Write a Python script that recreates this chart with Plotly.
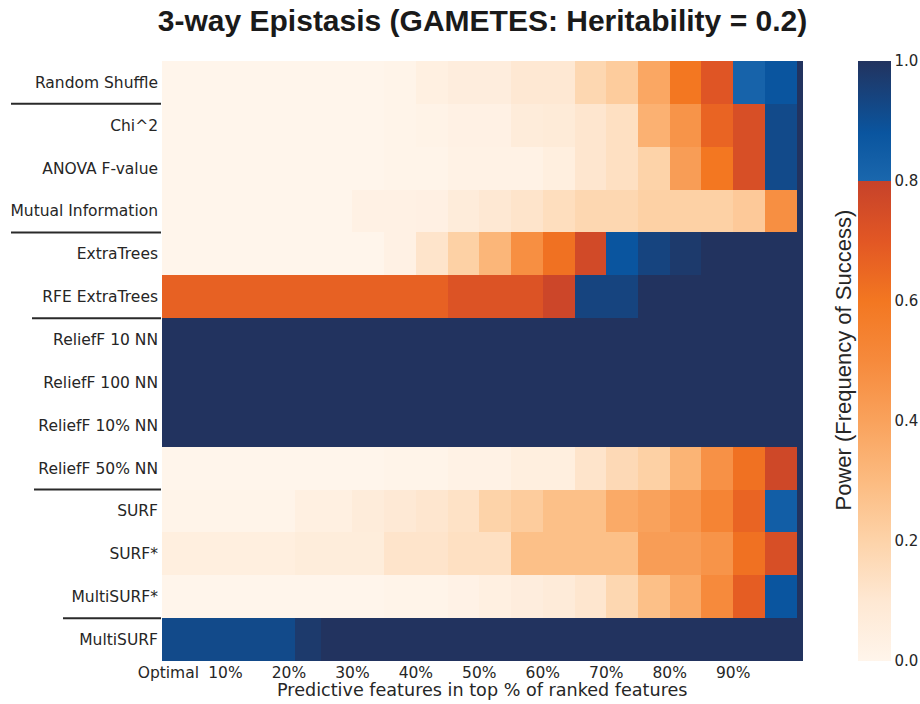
import plotly.graph_objects as go

# ---------------- data ----------------
methods = ["Random Shuffle", "Chi^2", "ANOVA F-value", "Mutual Information",
           "ExtraTrees", "RFE ExtraTrees", "ReliefF 10 NN", "ReliefF 100 NN",
           "ReliefF 10% NN", "ReliefF 50% NN", "SURF", "SURF*", "MultiSURF*",
           "MultiSURF"]

# percentage thresholds (bin edges) of the ranked-feature cut-offs
segment_edges = [0, 21, 25, 30, 35, 40, 45, 50, 55, 60, 65, 70, 75, 80, 85, 90, 95, 100, 101]

random_shuffle = [0, 0, 0, 0, 0.01, 0.04, 0.06, 0.06, 0.10, 0.10, 0.18, 0.23, 0.38, 0.60, 0.71, 0.816, 0.88, 1.0]
chi2           = [0, 0, 0, 0, 0.01, 0.015, 0.03, 0.03, 0.07, 0.08, 0.11, 0.14, 0.34, 0.46, 0.66, 0.74, 0.92, 1.0]
anova          = [0, 0, 0, 0, 0.01, 0.01, 0.025, 0.025, 0.025, 0.05, 0.11, 0.14, 0.20, 0.42, 0.60, 0.74, 0.92, 1.0]
mutual_info    = [0, 0, 0, 0.03, 0.03, 0.035, 0.07, 0.10, 0.12, 0.15, 0.18, 0.18, 0.21, 0.21, 0.21, 0.24, 0.48, 1.0]
extra_trees    = [0, 0, 0, 0, 0.03, 0.12, 0.21, 0.32, 0.48, 0.62, 0.76, 0.88, 0.94, 0.976, 1.0, 1.0, 1.0, 1.0]
rfe_extra      = [0.67, 0.67, 0.67, 0.67, 0.67, 0.67, 0.72, 0.72, 0.72, 0.78, 0.94, 0.94, 1.0, 1.0, 1.0, 1.0, 1.0, 1.0]
relieff_10     = [1.0] * 18
relieff_100    = [1.0] * 18
relieff_10pct  = [1.0] * 18
relieff_50pct  = [0, 0, 0, 0, 0.01, 0.01, 0.025, 0.025, 0.05, 0.05, 0.12, 0.17, 0.21, 0.33, 0.47, 0.62, 0.77, 1.0]
surf           = [0.01, 0.04, 0.04, 0.07, 0.09, 0.11, 0.13, 0.20, 0.23, 0.28, 0.28, 0.37, 0.40, 0.45, 0.53, 0.66, 0.84, 1.0]
surf_star      = [0.05, 0.065, 0.065, 0.065, 0.12, 0.12, 0.14, 0.14, 0.28, 0.28, 0.28, 0.28, 0.42, 0.42, 0.46, 0.62, 0.74, 1.0]
multisurf_star = [0, 0, 0, 0, 0.01, 0.01, 0.02, 0.04, 0.06, 0.075, 0.11, 0.18, 0.28, 0.37, 0.50, 0.68, 0.88, 1.0]
multisurf      = [0.92, 0.975, 1.0, 1.0, 1.0, 1.0, 1.0, 1.0, 1.0, 1.0, 1.0, 1.0, 1.0, 1.0, 1.0, 1.0, 1.0, 1.0]

x_tick_vals = [1, 10, 20, 30, 40, 50, 60, 70, 80, 90]
x_tick_labels = ["Optimal", "10%", "20%", "30%", "40%", "50%", "60%", "70%", "80%", "90%"]
cbar_tick_vals = [0.0, 0.2, 0.4, 0.6, 0.8, 1.0]
cbar_tick_labels = ["0.0", "0.2", "0.4", "0.6", "0.8", "1.0"]

z = [random_shuffle, chi2, anova, mutual_info, extra_trees, rfe_extra,
     relieff_10, relieff_100, relieff_10pct, relieff_50pct, surf, surf_star,
     multisurf_star, multisurf]

colorscale = [
    [0.0, "#fff5eb"], [0.1, "#fee8d3"], [0.2, "#fdd3a9"], [0.3, "#fcbb80"],
    [0.4, "#f9a25c"], [0.5, "#f68a3c"], [0.6, "#f37721"], [0.7, "#e25724"],
    [0.7999, "#c6422a"], [0.8, "#1a67ad"], [0.88, "#0a559f"], [1.0, "#22335f"],
]

TXT = "#262626"
L, R, T, B = 162, 117, 61, 43
W, H = 920, 704
PW, PH = W - L - R, H - T - B

fig = go.Figure(go.Heatmap(
    z=z, x=segment_edges, y=methods,
    zmin=0, zmax=1, colorscale=colorscale,
    colorbar=dict(
        x=(858 - L) / PW, xanchor="left", xpad=0,
        y=0.5, yanchor="middle", len=1.0, lenmode="fraction", ypad=0,
        thickness=33, thicknessmode="pixels", outlinewidth=0,
        tickvals=cbar_tick_vals, ticktext=cbar_tick_labels,
        ticks="", tickfont=dict(family="DejaVu Sans", size=15, color=TXT),
    ),
    hoverongaps=False,
))

# group separator lines under labels
sep_rows = [1, 4, 6, 10, 13]
sep_left_px = [11, 11, 32, 34, 63]
shapes = []
for k, lx in zip(sep_rows, sep_left_px):
    yy = 1 - k / len(methods)
    shapes.append(dict(type="line", xref="paper", yref="paper",
                       x0=(lx - L) / PW, x1=(161 - L) / PW, y0=yy, y1=yy,
                       line=dict(color="#2a2a2a", width=2)))

fig.update_layout(
    width=W, height=H,
    margin=dict(l=L, r=R, t=T, b=B, autoexpand=False),
    paper_bgcolor="white", plot_bgcolor="white",
    title=dict(text="3-way Epistasis (GAMETES: Heritability = 0.2)",
               x=0.5, xref="paper", xanchor="center",
               y=1 - 20 / H, yref="container", yanchor="middle",
               font=dict(family="Liberation Sans", size=30, color="#1a1a1a", weight="bold")),
    xaxis=dict(range=[0, 101], tickvals=x_tick_vals, ticktext=x_tick_labels,
               showgrid=False, zeroline=False, showline=False, ticks="",
               tickfont=dict(family="DejaVu Sans", size=15.5, color=TXT)),
    yaxis=dict(autorange="reversed", showgrid=False, zeroline=False, showline=False,
               ticks="", ticklabelstandoff=3,
               tickfont=dict(family="DejaVu Sans", size=15.5, color=TXT)),
    shapes=shapes,
    annotations=[
        dict(text="Predictive features in top % of ranked features",
             xref="paper", yref="paper", x=0.5, y=(661 - 690) / PH,
             xanchor="center", yanchor="middle", showarrow=False,
             font=dict(family="DejaVu Sans", size=17.6, color=TXT)),
        dict(text="Power (Frequency of Success)", textangle=-90,
             xref="paper", yref="paper", x=(843 - L) / PW, y=(661 - 360.5) / PH,
             xanchor="center", yanchor="middle", showarrow=False,
             font=dict(family="Liberation Sans", size=22, color=TXT)),
    ],
)

fig.write_html("out.html", config={"displayModeBar": False},
               post_script="document.body.style.margin='0px';document.body.style.overflow='hidden';")
